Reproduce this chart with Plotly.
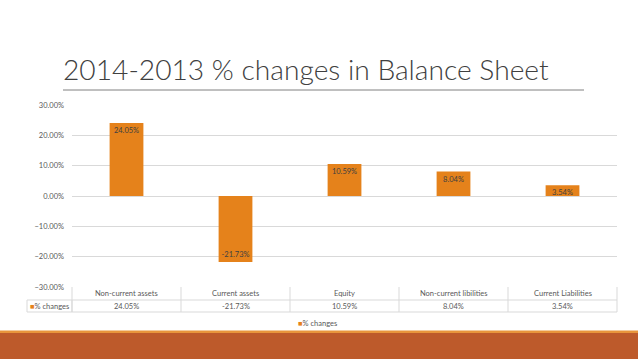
import plotly.graph_objects as go

# ---- data ----
categories = ["Non-current assets", "Current assets", "Equity", "Non-current libilities", "Current Liabilities"]
values = [0.2405, -0.2173, 0.1059, 0.0804, 0.0354]
series_name = "% changes"
title_text = "2014-2013 % changes in Balance Sheet"
y_ticks = [-0.3, -0.2, -0.1, 0.0, 0.1, 0.2, 0.3]

# ---- styling ----
W, H = 638, 359
L, R, T, B = 72, 617, 105, 287
BAR = "#E5821B"
TXT = "#595959"
GRID = "#D9D9D9"
FONT = "Lato"

def px(x):
    return (x - L) / (R - L)

def py(y):
    return (B - y) / (B - T)

fmt = lambda v: f"{v*100:.2f}%"

fig = go.Figure()
fig.add_trace(go.Bar(
    x=categories, y=values, name=series_name,
    marker=dict(color=BAR, line=dict(width=0)),
    width=0.31,
    text=[fmt(v) for v in values],
    textposition="inside", insidetextanchor="end",
    constraintext="none",
    textfont=dict(family=FONT, size=7.5, color="#404040"),
    textangle=0, cliponaxis=False,
    showlegend=False,
))

shapes = []
annotations = []

# title + underline
annotations.append(dict(text=title_text, xref="paper", yref="paper",
                        x=px(61), y=py(69), xanchor="left", yanchor="middle",
                        showarrow=False,
                        font=dict(family=FONT, size=28.2, color="#404040", weight=300)))
shapes.append(dict(type="line", xref="paper", yref="paper", x0=px(63), x1=px(584),
                   y0=py(90), y1=py(90), line=dict(color="#808080", width=1)))

# data table below the plot
row1_top, row_mid, row_bot = 287, 300, 312
n = len(categories)
col_w = (R - L) / n
for y in (row_mid, row_bot):
    shapes.append(dict(type="line", xref="paper", yref="paper", x0=px(L), x1=px(R),
                       y0=py(y), y1=py(y), line=dict(color=GRID, width=1)))
for i in range(n + 1):
    xx = L + i * col_w
    shapes.append(dict(type="line", xref="paper", yref="paper", x0=px(xx), x1=px(xx),
                       y0=py(row1_top), y1=py(row_bot), line=dict(color=GRID, width=1)))
# key cell
shapes.append(dict(type="rect", xref="paper", yref="paper", x0=px(27), x1=px(L),
                   y0=py(row_mid), y1=py(row_bot), line=dict(color=GRID, width=1)))
annotations.append(dict(text=f'<span style="color:{BAR}">■</span>{series_name}',
                        xref="paper", yref="paper", x=px(28), y=py(306),
                        xanchor="left", yanchor="middle", showarrow=False,
                        font=dict(family=FONT, size=7.5, color=TXT)))
for i, (c, v) in enumerate(zip(categories, values)):
    cx = L + (i + 0.5) * col_w
    annotations.append(dict(text=c, xref="paper", yref="paper", x=px(cx), y=py(293.5),
                            xanchor="center", yanchor="middle", showarrow=False,
                            font=dict(family=FONT, size=7.5, color=TXT)))
    annotations.append(dict(text=fmt(v), xref="paper", yref="paper", x=px(cx), y=py(306),
                            xanchor="center", yanchor="middle", showarrow=False,
                            font=dict(family=FONT, size=7.5, color=TXT)))

# legend
annotations.append(dict(text=f'<span style="color:{BAR}">■</span>{series_name}',
                        xref="paper", yref="paper", x=px(317), y=py(323),
                        xanchor="center", yanchor="middle", showarrow=False,
                        font=dict(family=FONT, size=7.5, color=TXT)))

# footer band
shapes.append(dict(type="rect", xref="paper", yref="paper", x0=px(0), x1=px(W),
                   y0=py(330.5), y1=py(333), fillcolor="#E8953C", line=dict(width=0)))
shapes.append(dict(type="rect", xref="paper", yref="paper", x0=px(0), x1=px(W),
                   y0=py(333), y1=py(H + 1), fillcolor="#BD5A2B", line=dict(width=0)))

fig.update_layout(
    width=W, height=H,
    margin=dict(l=L, r=W - R, t=T, b=H - B, pad=0),
    paper_bgcolor="white", plot_bgcolor="white",
    shapes=shapes, annotations=annotations,
    xaxis=dict(showticklabels=False, showgrid=False, zeroline=False, showline=False,
               ticks=""),
    yaxis=dict(range=[-0.3, 0.3], tickvals=y_ticks, tickformat=".2%",
               showgrid=True, gridcolor=GRID, gridwidth=1,
               zeroline=True, zerolinecolor=GRID, zerolinewidth=1,
               showline=False, ticks="", ticklabelstandoff=7,
               tickfont=dict(family=FONT, size=7.5, color=TXT)),
    font=dict(family=FONT),
)

fig.write_html("out.html", config={"displayModeBar": False},
               post_script="document.body.style.margin='0';document.body.style.overflow='hidden';")
